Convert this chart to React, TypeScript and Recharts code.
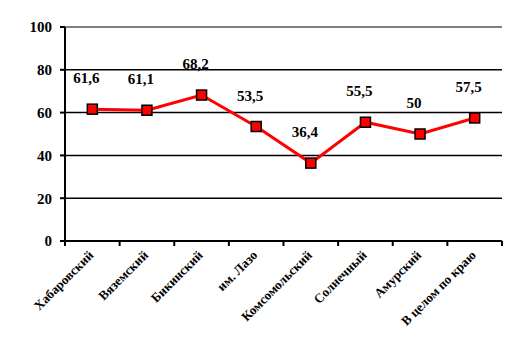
import React from "react";
import { LineChart, Line, XAxis, YAxis, CartesianGrid, ReferenceLine, LabelList } from "recharts";

const categories = ["Хабаровский", "Вяземский", "Бикинский", "им. Лазо", "Комсомольский", "Солнечный", "Амурский", "В целом по краю"];
const values = [61.6, 61.1, 68.2, 53.5, 36.4, 55.5, 50, 57.5];
const yTicks = [0, 20, 40, 60, 80, 100];

const data = categories.map((name, i) => ({ name, value: values[i] }));

const FONT = "Liberation Serif";

const XTick = (props: any) => {
  const { x, y, payload, index } = props;
  const off = payload && payload.offset ? payload.offset : 27.3;
  const last = index === categories.length - 1;
  return (
    <g>
      <line x1={x - off} y1={y - 8} x2={x - off} y2={y - 3} stroke="#000" strokeWidth={2} />
      {last && <line x1={x + off} y1={y - 8} x2={x + off} y2={y - 3} stroke="#000" strokeWidth={2} />}
      <text
        x={x + 2}
        y={y + 7}
        transform={`rotate(-45, ${x + 2}, ${y + 7})`}
        textAnchor="end"
        style={{ fontFamily: FONT, fontWeight: "bold", fontSize: 13 }}
        fill="#000"
      >
        {payload.value}
      </text>
    </g>
  );
};

const Square = (props: any) => {
  const { cx, cy } = props;
  if (cx == null || cy == null) return null;
  return <rect x={cx - 5} y={cy - 5} width={10} height={10} fill="#ff0000" stroke="#000" strokeWidth={1.5} />;
};

const ValueLabel = (props: any) => {
  const { x, y, value } = props;
  return (
    <text x={x - 6} y={y - 26} textAnchor="middle" style={{ fontFamily: FONT, fontWeight: "bold", fontSize: 15 }} fill="#000">
      {String(value).replace(".", ",")}
    </text>
  );
};

export default function App() {
  return (
    <div style={{ position: "absolute", left: 0, top: 0, width: 515, height: 360, background: "#fff" }}>
      <LineChart width={515} height={360} data={data} margin={{ top: 27, right: 13, bottom: 19, left: 0 }}>
        <CartesianGrid vertical={false} stroke="#000" strokeWidth={1.5} />
        <XAxis
          dataKey="name"
          scale="band"
          height={100}
          interval={0}
          tickLine={false}
          axisLine={{ stroke: "#000", strokeWidth: 2 }}
          tick={<XTick />}
        />
        <YAxis
          domain={[0, 100]}
          ticks={yTicks}
          width={65}
          tickSize={5}
          tickMargin={8}
          tickLine={{ stroke: "#000", strokeWidth: 2 }}
          axisLine={{ stroke: "#000", strokeWidth: 2 }}
          tick={{ fontFamily: FONT, fontWeight: "bold", fontSize: 15, fill: "#000", style: { fontFamily: FONT } }}
        />
        <YAxis
          yAxisId="r"
          orientation="right"
          width={0}
          tick={false}
          tickLine={false}
          axisLine={{ stroke: "#808080", strokeWidth: 2 }}
        />
        <ReferenceLine y={100} stroke="#808080" strokeWidth={2} />
        <Line
          type="linear"
          dataKey="value"
          stroke="#ff0000"
          strokeWidth={3}
          dot={<Square />}
          activeDot={false}
          isAnimationActive={false}
        >
          <LabelList dataKey="value" content={<ValueLabel />} />
        </Line>
      </LineChart>
    </div>
  );
}
